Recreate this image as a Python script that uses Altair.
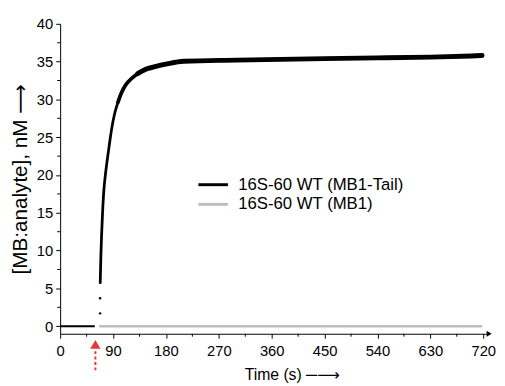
import altair as alt
import pandas as pd

# ---- data ----
# 16S-60 WT (MB1-Tail): baseline before injection
base_t = [0, 59]
base_v = [0, 0]
# two isolated points right after injection
jump_t = [68, 68]
jump_v = [1.7, 3.7]
# rising part
rise_t = [68.2, 69.3, 70.4, 72.1, 74.3, 77.1, 80.5, 84.4, 88.3, 92.7, 98.3, 103.9, 112.3]
rise_v = [5.75, 9.2, 11.8, 14.9, 17.9, 20.1, 22.2, 24.4, 26.4, 28.1, 29.6, 30.8, 32.0]
# knee
knee_t = [98.3, 103.9, 112.3, 120.6, 131.8, 145.8]
knee_v = [29.6, 30.8, 32.0, 32.7, 33.4, 34.0]
# plateau
plat_t = [131.8, 145.8, 159.8, 182, 210, 300, 450, 540, 630, 700, 718]
plat_v = [33.4, 34.0, 34.3, 34.7, 35.05, 35.2, 35.4, 35.5, 35.6, 35.75, 35.8]
# 16S-60 WT (MB1)
gray_t = [66.5, 718]
gray_v = [0, 0]

series_names = ["16S-60 WT (MB1-Tail)", "16S-60 WT (MB1)"]
series_colors = ["#000000", "#bdbdbd"]

x_ticks = [0, 90, 180, 270, 360, 450, 540, 630, 720]
x_minor = [45, 135, 225, 315, 405, 495, 585, 675]
y_ticks = [0, 5, 10, 15, 20, 25, 30, 35, 40]
y_minor = [2.5, 7.5, 12.5, 17.5, 22.5, 27.5, 32.5, 37.5]

x_dom = [0, 730]
y_dom = [-1, 40]
inject_t = [60]

FONT = "Liberation Sans, Arial, DejaVu Sans"
W, H = 436, 315

def df(t, v, name=None):
    d = pd.DataFrame({"t": t, "v": v})
    if name is not None:
        d["series"] = name
    return d

X = alt.X("t:Q", scale=alt.Scale(domain=x_dom, nice=False, zero=False),
          axis=alt.Axis(values=x_ticks, title="Time (s)   \u2500\u27f6", tickSize=4.5,
                        labelPadding=6, titlePadding=8, grid=False, labelFlush=False,
                        labelOverlap=False, titleAlign="left", titleX=187))
Y = alt.Y("v:Q", scale=alt.Scale(domain=y_dom, nice=False, zero=False),
          axis=alt.Axis(values=y_ticks, tickCount=9, title="[MB:analyte], nM   \u27f6", tickSize=4.5,
                        labelPadding=3, titlePadding=6, grid=False, labelFlush=False,
                        labelOverlap=False, titleFontSize=21))

leg_common = dict(title=None, orient="none", symbolType="stroke", symbolSize=900,
                  symbolStrokeWidth=3, labelFontSize=17, labelFont=FONT, labelOffset=9,
                  labelColor="black", labelLimit=400)

color = alt.Color("series:N",
                  scale=alt.Scale(domain=series_names[:1], range=series_colors[:1]),
                  legend=alt.Legend(legendX=139, legendY=147, **leg_common))
stroke = alt.Stroke("series:N",
                    scale=alt.Scale(domain=series_names[1:], range=series_colors[1:]),
                    legend=alt.Legend(legendX=139, legendY=167, **leg_common))

base = alt.Chart(df(base_t, base_v)).mark_line(color="black", strokeWidth=2).encode(x=X, y=Y)
jump = alt.Chart(df(jump_t, jump_v)).mark_circle(color="black", size=6, opacity=1).encode(x=X, y=Y)
rise = alt.Chart(df(rise_t, rise_v, series_names[0])).mark_line(
    strokeWidth=2.8, interpolate="monotone", strokeCap="round").encode(x=X, y=Y, color=color)
knee = alt.Chart(df(knee_t, knee_v, series_names[0])).mark_line(
    strokeWidth=3.8, interpolate="monotone", strokeCap="round").encode(x=X, y=Y, color=color)
plat = alt.Chart(df(plat_t, plat_v, series_names[0])).mark_line(
    strokeWidth=5, interpolate="monotone", strokeCap="round").encode(x=X, y=Y, color=color)
gray = alt.Chart(df(gray_t, gray_v, series_names[1])).mark_line(strokeWidth=2.5).encode(
    x=X, y=Y, stroke=stroke)

xminor = alt.Chart(pd.DataFrame({"t": x_minor, "v": [0] * len(x_minor)})).mark_rule(
    color="black", strokeWidth=1).encode(x=X, y=alt.value(H), y2=alt.value(H + 3))
yminor = alt.Chart(pd.DataFrame({"t": [0] * len(y_minor), "v": y_minor})).mark_rule(
    color="black", strokeWidth=1).encode(y=Y, x=alt.value(0), x2=alt.value(-3))

xarrow = alt.Chart(pd.DataFrame({"t": [x_dom[1]], "v": [y_dom[0]]})).mark_point(
    shape="triangle-right", filled=True, color="black", size=35, opacity=1).encode(x=X, y=Y)

red_line = alt.Chart(pd.DataFrame({"t": inject_t, "v": [-3.3], "v2": [-6.1]})).mark_rule(
    color="#e5383b", strokeWidth=2, strokeDash=[3, 2.5]).encode(x=X, y=Y, y2="v2:Q")
red_head = alt.Chart(pd.DataFrame({"t": inject_t, "v": [-2.4]})).mark_point(
    shape="triangle-up", filled=True, color="#e5383b", size=110, opacity=1).encode(x=X, y=Y)

chart = alt.layer(base, gray, rise, knee, plat, jump, xminor, yminor, xarrow, red_line, red_head).properties(
    width=W, height=H,
    autosize=alt.AutoSizeParams(type="none"),
    padding={"left": 53, "top": 13, "right": 8, "bottom": 50},
).configure_view(stroke=None).configure_axis(
    domainColor="black", tickColor="black", labelColor="black", titleColor="black",
    labelFont=FONT, titleFont=FONT, labelFontSize=15, titleFontSize=16,
    titleFontWeight="normal", domainWidth=1, tickWidth=1, labelOverlap=False,
)

chart.save("out.html", embed_options={"renderer": "svg", "actions": False})
